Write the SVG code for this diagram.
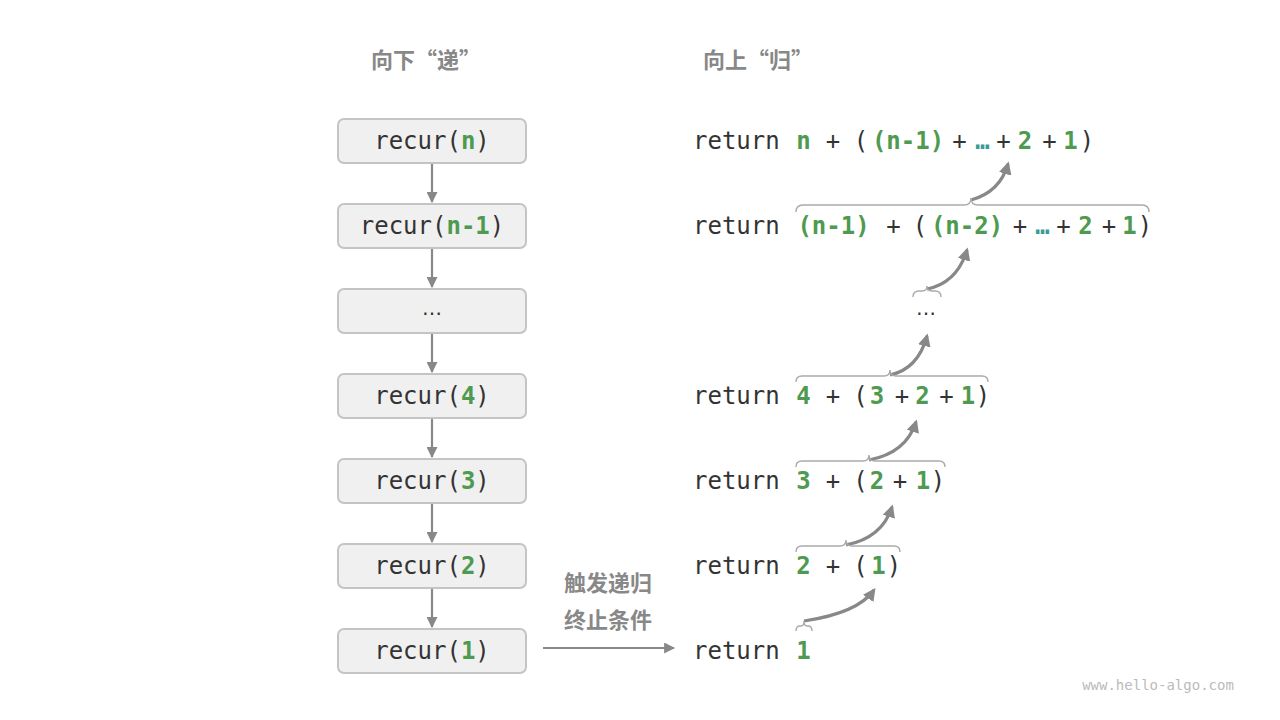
<svg xmlns="http://www.w3.org/2000/svg" width="1280" height="720" viewBox="0 0 1280 720">
<defs>
<style>
.box{fill:#f0f0f0;stroke:#c4c4c4;stroke-width:2}
.m{font-family:"DejaVu Sans Mono","Liberation Mono",monospace;font-size:24px;fill:#333}
.g{fill:#4e9a50;font-weight:bold}
.t{fill:#3a9a96;font-weight:bold}
.c{text-anchor:middle}
.h{font-family:"Noto Sans CJK SC","Noto Sans",sans-serif;font-size:22px;font-weight:bold;fill:#888}
.ln{stroke:#888;stroke-width:2.2;fill:none}
.br{stroke:#aaa;stroke-width:1.4;fill:none}
.up{stroke:#888;stroke-width:3.2;fill:none;marker-end:url(#ah2)}
.el{font-family:"DejaVu Sans",sans-serif;font-size:20px;fill:#333;text-anchor:middle}
</style>
<marker id="ah" viewBox="0 0 10 10" refX="9" refY="5" markerWidth="5" markerHeight="5" markerUnits="strokeWidth" orient="auto"><path d="M0,0 L10,5 L0,10 z" fill="#888"/></marker>
<marker id="ah2" viewBox="0 0 10 10" refX="8" refY="5" markerWidth="4" markerHeight="4" markerUnits="strokeWidth" orient="auto"><path d="M0,0 L10,5 L0,10 z" fill="#888"/></marker>
</defs>
<rect width="1280" height="720" fill="#fff"/>

<text class="h" x="426" y="68" text-anchor="middle">向下“递”</text>
<text class="h" x="758" y="68" text-anchor="middle">向上“归”</text>

<g id="connectors">
<line class="ln" x1="432" y1="164" x2="432" y2="202" marker-end="url(#ah)"/>
<line class="ln" x1="432" y1="249" x2="432" y2="287" marker-end="url(#ah)"/>
<line class="ln" x1="432" y1="334" x2="432" y2="372" marker-end="url(#ah)"/>
<line class="ln" x1="432" y1="419" x2="432" y2="457" marker-end="url(#ah)"/>
<line class="ln" x1="432" y1="504" x2="432" y2="542" marker-end="url(#ah)"/>
<line class="ln" x1="432" y1="589" x2="432" y2="627" marker-end="url(#ah)"/>
<line class="ln" x1="543" y1="648" x2="674" y2="648" marker-end="url(#ah)"/>
<path class="up" d="M971,200 Q1000,192 1008,164"/>
<path class="up" d="M927,289 Q957,283 967,250"/>
<path class="up" d="M890,375 Q918,369 927,336"/>
<path class="up" d="M869,460 Q906,453 916,422"/>
<path class="up" d="M846,545 Q882,538 892,507"/>
<path class="up" d="M804,621 Q858,613 874,590"/>
</g>

<g id="braces">
<path class="br" d="M796,212 Q796,205 803,205 L964,205 Q971,205 971,198 Q971,205 978,205 L1142,205 Q1149,205 1149,212"/>
<path class="br" d="M913,297 Q913,291 919,291 L922,291 Q927,291 927,286 Q927,291 932,291 L935,291 Q941,291 941,297"/>
<path class="br" d="M796,382 Q796,376 802,376 L884,376 Q890,376 890,370 Q890,376 896,376 L982,376 Q988,376 988,382"/>
<path class="br" d="M796,467 Q796,461 802,461 L863,461 Q869,461 869,455 Q869,461 875,461 L939,461 Q945,461 945,467"/>
<path class="br" d="M796,552 Q796,546 802,546 L840,546 Q846,546 846,540 Q846,546 852,546 L894,546 Q900,546 900,552"/>
<path class="br" d="M796,631 Q796,626 800,626 L801,626 Q804,626 804,621 Q804,626 807,626 L808,626 Q812,626 812,631"/>
</g>

<g id="n1"><rect class="box" x="338" y="119" width="188" height="44" rx="6"/><text class="m c" x="432" y="149">recur(<tspan class="g">n</tspan>)</text></g>
<g id="n2"><rect class="box" x="338" y="204" width="188" height="44" rx="6"/><text class="m c" x="432" y="234">recur(<tspan class="g">n-1</tspan>)</text></g>
<g id="n3"><rect class="box" x="338" y="289" width="188" height="44" rx="6"/><text class="el" x="432" y="315">…</text></g>
<g id="n4"><rect class="box" x="338" y="374" width="188" height="44" rx="6"/><text class="m c" x="432" y="404">recur(<tspan class="g">4</tspan>)</text></g>
<g id="n5"><rect class="box" x="338" y="459" width="188" height="44" rx="6"/><text class="m c" x="432" y="489">recur(<tspan class="g">3</tspan>)</text></g>
<g id="n6"><rect class="box" x="338" y="544" width="188" height="44" rx="6"/><text class="m c" x="432" y="574">recur(<tspan class="g">2</tspan>)</text></g>
<g id="n7"><rect class="box" x="338" y="629" width="188" height="44" rx="6"/><text class="m c" x="432" y="659">recur(<tspan class="g">1</tspan>)</text></g>

<g id="r1" class="m">
<text x="693" y="149">return</text>
<text class="g c" x="803.5" y="149">n</text>
<text class="c" x="833" y="149">+</text>
<text class="c" x="861" y="149">(</text>
<text class="g c" x="908" y="149">(n-1)</text>
<text class="c" x="959.5" y="149">+</text>
<text class="t c" x="982.5" y="149">…</text>
<text class="c" x="1003.5" y="149">+</text>
<text class="g c" x="1025" y="149">2</text>
<text class="c" x="1049.5" y="149">+</text>
<text class="g c" x="1070.5" y="149">1</text>
<text class="c" x="1087" y="149">)</text>
</g>
<g id="r2" class="m">
<text x="693" y="234">return</text>
<text class="g c" x="833.5" y="234">(n-1)</text>
<text class="c" x="893.5" y="234">+</text>
<text class="c" x="920" y="234">(</text>
<text class="g c" x="967" y="234">(n-2)</text>
<text class="c" x="1020" y="234">+</text>
<text class="t c" x="1042.5" y="234">…</text>
<text class="c" x="1063.5" y="234">+</text>
<text class="g c" x="1085.5" y="234">2</text>
<text class="c" x="1109" y="234">+</text>
<text class="g c" x="1129.5" y="234">1</text>
<text class="c" x="1145" y="234">)</text>
</g>
<g id="r3"><text class="el" x="926" y="315">…</text></g>
<g id="r4" class="m">
<text x="693" y="404">return</text>
<text class="g c" x="803.5" y="404">4</text>
<text class="c" x="833" y="404">+</text>
<text class="c" x="860.5" y="404">(</text>
<text class="g c" x="877" y="404">3</text>
<text class="c" x="902" y="404">+</text>
<text class="g c" x="922.5" y="404">2</text>
<text class="c" x="946.5" y="404">+</text>
<text class="g c" x="968" y="404">1</text>
<text class="c" x="983" y="404">)</text>
</g>
<g id="r5" class="m">
<text x="693" y="489">return</text>
<text class="g c" x="803.5" y="489">3</text>
<text class="c" x="833" y="489">+</text>
<text class="c" x="860.5" y="489">(</text>
<text class="g c" x="877" y="489">2</text>
<text class="c" x="900" y="489">+</text>
<text class="g c" x="923" y="489">1</text>
<text class="c" x="938" y="489">)</text>
</g>
<g id="r6" class="m">
<text x="693" y="574">return</text>
<text class="g c" x="803.5" y="574">2</text>
<text class="c" x="833" y="574">+</text>
<text class="c" x="860.5" y="574">(</text>
<text class="g c" x="878.5" y="574">1</text>
<text class="c" x="894" y="574">)</text>
</g>
<g id="r7" class="m">
<text x="693" y="659">return</text>
<text class="g c" x="803.5" y="659">1</text>
</g>

<g id="label">
<text class="h" x="608" y="591" text-anchor="middle">触发递归</text>
<text class="h" x="608" y="628" text-anchor="middle">终止条件</text>
</g>

<text x="1158" y="690" text-anchor="middle" style="font-family:'DejaVu Sans Mono',monospace;font-size:14px;fill:#bbb">www.hello-algo.com</text>
</svg>
